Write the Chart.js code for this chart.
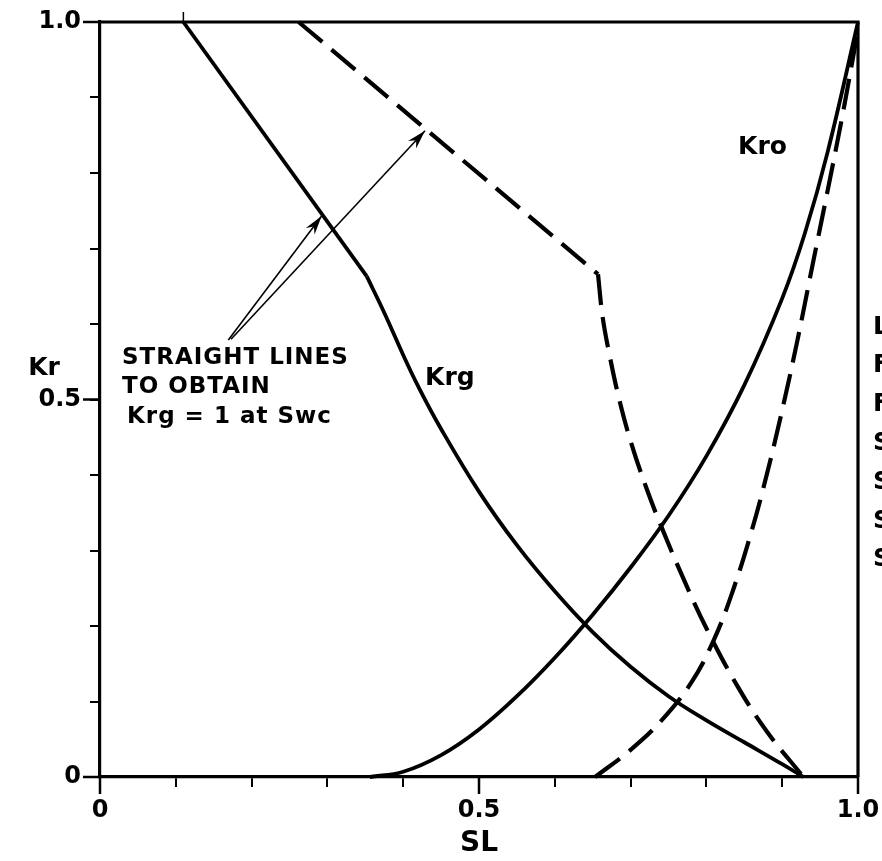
<!DOCTYPE html>
<html><head><meta charset="utf-8">
<script src="https://cdn.jsdelivr.net/npm/chart.js@4.4.1/dist/chart.umd.min.js"></script>
<style>html,body{margin:0;padding:0;background:#fff;}#wrap{width:882px;height:861px;}</style>
</head><body><div id="wrap"><canvas id="c" width="882" height="861"></canvas></div>
<script>
// ---- data (SL, Kr) ----
const krgStraightSL = [0.11, 0.352];
const krgStraightKr = [1.0, 0.663];
const krgCurveSL = [0.352, 0.375, 0.40, 0.42, 0.45, 0.50, 0.55, 0.60, 0.65, 0.70, 0.75, 0.80, 0.85, 0.90, 0.928];
const krgCurveKr = [0.663, 0.615, 0.559, 0.517, 0.461, 0.378, 0.307, 0.246, 0.192, 0.146, 0.107, 0.075, 0.046, 0.017, 0.0];

const krgSwcStraightSL = [0.262, 0.657];
const krgSwcStraightKr = [1.0, 0.666];
const krgSwcCurveSL = [0.657, 0.663, 0.672, 0.685, 0.70, 0.72, 0.74, 0.77, 0.80, 0.84, 0.88, 0.928];
const krgSwcCurveKr = [0.666, 0.61, 0.56, 0.50, 0.445, 0.385, 0.333, 0.262, 0.197, 0.122, 0.060, 0.0];

const kroSL = [0.356, 0.40, 0.45, 0.50, 0.55, 0.60, 0.65, 0.70, 0.75, 0.80, 0.85, 0.90, 0.93, 0.96, 1.0];
const kroKr = [0.0, 0.007, 0.029, 0.063, 0.107, 0.158, 0.215, 0.2775, 0.346, 0.425, 0.519, 0.634, 0.7205, 0.828, 1.0];

const kroDashSL = [0.653, 0.70, 0.74, 0.78, 0.81, 0.835, 0.86, 0.88, 0.90, 0.92, 0.94, 0.96, 0.98, 1.0];
const kroDashKr = [0.0, 0.036, 0.074, 0.125, 0.182, 0.247, 0.327, 0.402, 0.486, 0.578, 0.678, 0.777, 0.879, 0.99];

// annotation arrows (tail -> head), in SL / Kr units
const arrow1SL = [0.1693, 0.2924];
const arrow1Kr = [0.5788, 0.743];
const arrow2SL = [0.1728, 0.4288];
const arrow2Kr = [0.5797, 0.856];

const tickStep = 0.1;
const labeledTicks = [0, 0.5, 1.0];
const xTickText = ['0', '0.5', '1.0'];
const yTickText = ['0', '0.5', '1.0'];
const xTitle = 'SL';
const yTitle = 'Kr';
const noteLines = ['STRAIGHT LINES', 'TO OBTAIN', 'Krg = 1 at Swc'];
const curveLabels = ['Krg', 'Kro'];
const edgeLetters = ['L', 'F', 'F', 'S', 'S', 'S', 'S'];

// ---- helpers ----
const pts = (xs, ys) => xs.map((v, i) => ({x: v, y: ys[i]}));
const FONT = 'DejaVu Sans';
function tickLabel(v, texts) {
  for (let i = 0; i < labeledTicks.length; i++) if (Math.abs(v - labeledTicks[i]) < 1e-6) return texts[i];
  return '';
}
const solid = (data, tension) => ({data, borderColor:'#000', borderWidth:3.8, pointRadius:0, fill:false,
  tension: tension, cubicInterpolationMode: 'default', clip:false,
  borderCapStyle:'butt', borderJoinStyle:'round'});
const dashed = (data, tension) => Object.assign(solid(data, tension), {borderWidth:4.2, borderDash:[31,12]});
const thin = (data) => ({data, borderColor:'#000', borderWidth:1.6, pointRadius:0, fill:false, tension:0, clip:false, isArrow:true});

const annPlugin = {
  id: 'ann',
  afterDatasetsDraw(chart) {
    const {ctx, chartArea: a, scales: {x, y}} = chart;
    ctx.save();
    ctx.strokeStyle = '#000'; ctx.fillStyle = '#000';
    // frame top & right
    ctx.lineWidth = 3.2;
    ctx.beginPath();
    ctx.moveTo(a.left - 1, a.top); ctx.lineTo(a.right, a.top); ctx.lineTo(a.right, a.bottom);
    ctx.stroke();
    // longer major ticks + small Swc mark on top edge
    ctx.lineWidth = 2.5;
    ctx.beginPath();
    labeledTicks.forEach(v => {
      const px = x.getPixelForValue(v);
      ctx.moveTo(px, a.bottom); ctx.lineTo(px, a.bottom + 17);
      const py = y.getPixelForValue(v);
      ctx.moveTo(a.left, py); ctx.lineTo(a.left - 17, py);
    });
    ctx.stroke();
    ctx.lineWidth = 1.5;
    ctx.beginPath();
    const swcPx = x.getPixelForValue(krgStraightSL[0]);
    ctx.moveTo(swcPx, a.top); ctx.lineTo(swcPx, a.top - 10);
    ctx.stroke();
    // arrowheads
    chart.data.datasets.forEach((ds, i) => {
      if (!ds.isArrow) return;
      const d = chart.getDatasetMeta(i).data;
      const p0 = d[0], p1 = d[d.length - 1];
      const ang = Math.atan2(p1.y - p0.y, p1.x - p0.x);
      const L = 19, W = 5.5;
      ctx.beginPath();
      ctx.moveTo(p1.x, p1.y);
      ctx.lineTo(p1.x - L * Math.cos(ang) + W * Math.sin(ang), p1.y - L * Math.sin(ang) - W * Math.cos(ang));
      ctx.lineTo(p1.x - (L - 6) * Math.cos(ang), p1.y - (L - 6) * Math.sin(ang));
      ctx.lineTo(p1.x - L * Math.cos(ang) - W * Math.sin(ang), p1.y - L * Math.sin(ang) + W * Math.cos(ang));
      ctx.closePath();
      ctx.fill();
    });
    // note text
    ctx.textBaseline = 'middle';
    ctx.textAlign = 'left';
    ctx.font = `bold 23px "${FONT}"`;
    try { ctx.letterSpacing = '1px'; } catch (e) {}
    const noteX = [0.029, 0.029, 0.0356];
    const noteY = [0.555, 0.5166, 0.4768];
    noteLines.forEach((t, i) => ctx.fillText(t, x.getPixelForValue(noteX[i]), y.getPixelForValue(noteY[i])));
    try { ctx.letterSpacing = '0px'; } catch (e) {}
    // curve labels
    ctx.font = `bold 25px "${FONT}"`;
    ctx.fillText(curveLabels[0], x.getPixelForValue(0.4288), y.getPixelForValue(0.528));
    ctx.fillText(curveLabels[1], x.getPixelForValue(0.8417), y.getPixelForValue(0.834));
    // y title (horizontal)
    ctx.font = `bold 25px "${FONT}"`;
    ctx.textAlign = 'center';
    ctx.fillText(yTitle, 44, y.getPixelForValue(0.541));
    // clipped letters at the right edge
    ctx.textAlign = 'left';
    ctx.font = `bold 25px "${FONT}"`;
    edgeLetters.forEach((t, i) => ctx.fillText(t, a.right + 15, 327 + i * 38.8));
    ctx.restore();
  }
};

new Chart(document.getElementById('c'), {
  type: 'line',
  data: {
    datasets: [
      solid(pts(krgStraightSL, krgStraightKr), 0),
      solid(pts(krgCurveSL, krgCurveKr), 0.4),
      dashed(pts(krgSwcStraightSL, krgSwcStraightKr), 0),
      dashed(pts(krgSwcCurveSL, krgSwcCurveKr), 0.4),
      solid(pts(kroSL, kroKr), 0.4),
      dashed(pts(kroDashSL, kroDashKr), 0.4),
      thin(pts(arrow1SL, arrow1Kr)),
      thin(pts(arrow2SL, arrow2Kr))
    ]
  },
  options: {
    responsive: false,
    animation: false,
    devicePixelRatio: 1,
    layout: {padding: {left: 0, right: 24, top: 22, bottom: 0}},
    plugins: {legend: {display: false}, tooltip: {enabled: false}},
    scales: {
      x: {
        type: 'linear', min: 0, max: 1,
        afterFit: s => { s.height = 84; s.paddingLeft = 0; s.paddingRight = 0; },
        border: {color: '#000', width: 3.2},
        grid: {drawOnChartArea: false, drawTicks: true, tickLength: 10, color: '#000', lineWidth: 2},
        ticks: {stepSize: tickStep, autoSkip: false, maxRotation: 0, padding: 9, color: '#000',
          font: {family: FONT, size: 24, weight: 'bold'}, callback: v => tickLabel(v, xTickText)},
        title: {display: true, text: xTitle, color: '#000', font: {family: FONT, size: 28, weight: 'bold'}, padding: {top: 0, bottom: 0}}
      },
      y: {
        type: 'linear', min: 0, max: 1,
        afterFit: s => { s.width = 100; s.paddingTop = 0; s.paddingBottom = 0; },
        border: {color: '#000', width: 3.2},
        grid: {drawOnChartArea: false, drawTicks: true, tickLength: 10, color: '#000', lineWidth: 2},
        ticks: {stepSize: tickStep, autoSkip: false, padding: 9, color: '#000',
          font: {family: FONT, size: 24, weight: 'bold'}, callback: v => tickLabel(v, yTickText)}
      }
    }
  },
  plugins: [annPlugin]
});
</script>
</body></html>
